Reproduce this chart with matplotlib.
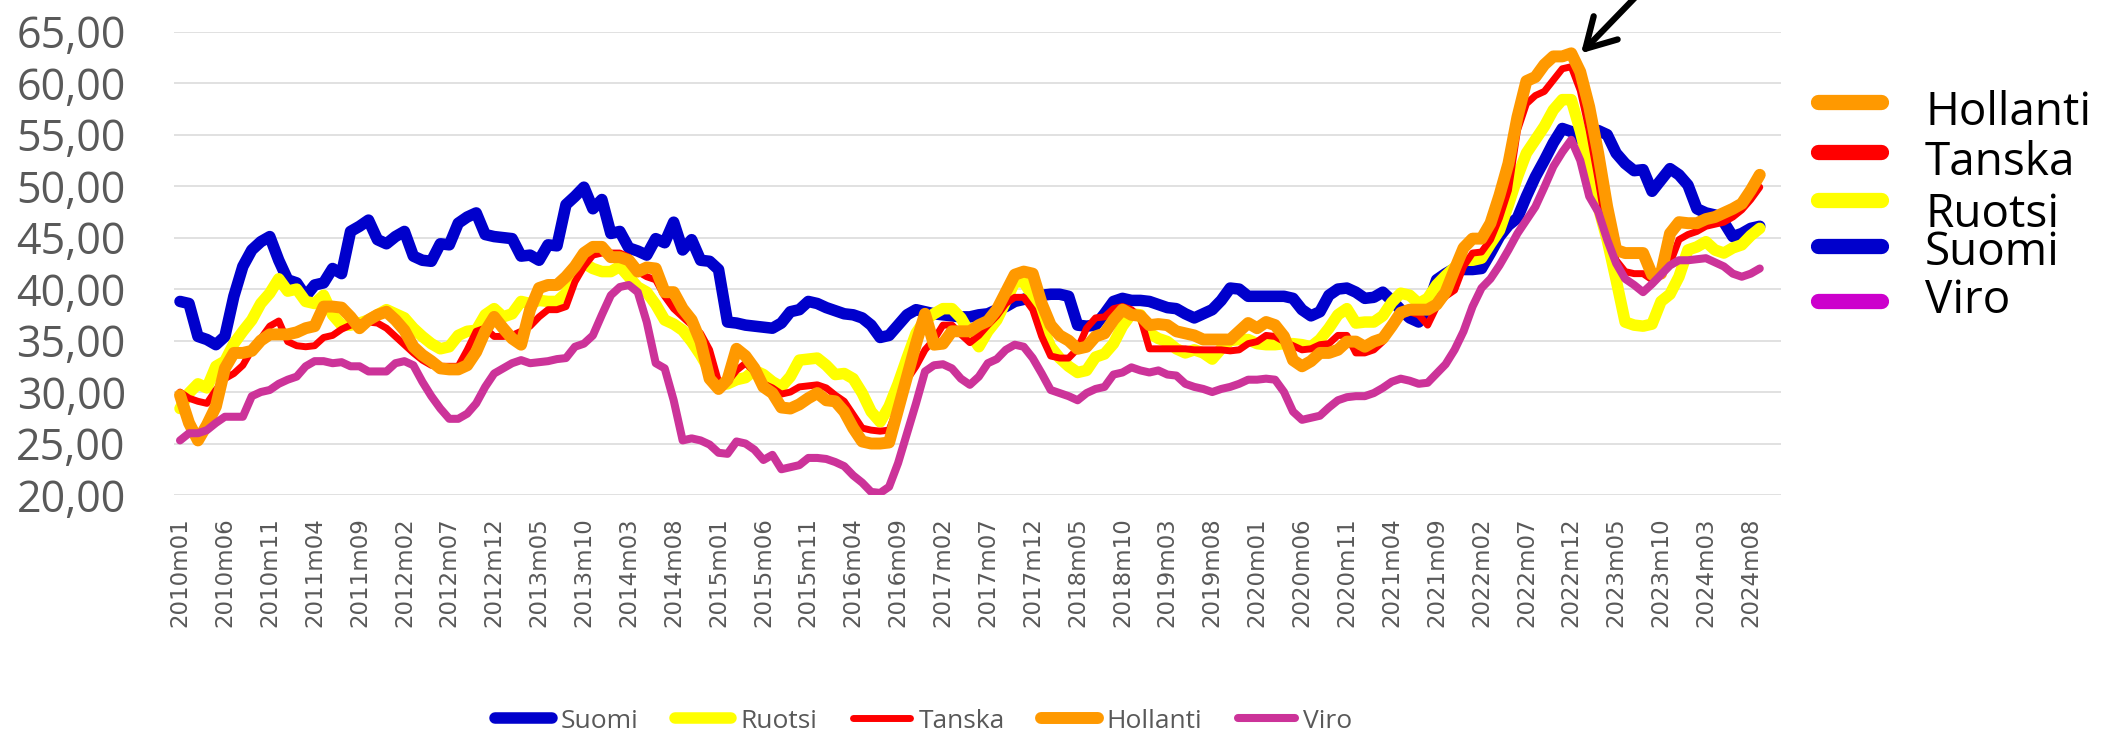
import numpy as np
import matplotlib
matplotlib.use("Agg")
import matplotlib.pyplot as plt
from matplotlib.lines import Line2D
from matplotlib.transforms import offset_copy

# ---------------- data ----------------
years = list(range(2010, 2025))
months = [f"{y}m{m:02d}" for y in years for m in range(1, 13)][:177]

suomi = [
    38.8, 38.6, 35.4, 35.1, 34.6, 35.4, 39.3, 42.2, 43.8, 44.6, 45.1, 42.8,
    40.9, 40.6, 39.3, 40.4, 40.6, 42.0, 41.5, 45.6, 46.1, 46.7, 44.8, 44.4,
    45.1, 45.6, 43.2, 42.8, 42.7, 44.4, 44.3, 46.4, 47.0, 47.4, 45.3, 45.1,
    45.0, 44.9, 43.2, 43.3, 42.8, 44.3, 44.2, 48.2, 49.0, 49.9, 47.8, 48.7,
    45.4, 45.6, 44.0, 43.7, 43.3, 44.9, 44.5, 46.5, 43.8, 44.8, 42.8, 42.7,
    41.9, 36.8, 36.7, 36.5, 36.4, 36.3, 36.2, 36.7, 37.8, 38.0, 38.8, 38.6,
    38.2, 37.9, 37.6, 37.5, 37.2, 36.5, 35.3, 35.5, 36.5, 37.5, 38.0, 37.8,
    37.6, 37.5, 37.4, 37.3, 37.3, 37.5, 37.6, 38.0, 38.3, 38.8, 39.0, 39.3,
    39.4, 39.5, 39.5, 39.3, 36.5, 36.4, 36.5, 37.6, 38.8, 39.1, 38.9, 38.9,
    38.8, 38.5, 38.2, 38.1, 37.6, 37.2, 37.6, 38.0, 38.9, 40.1, 40.0, 39.3,
    39.3, 39.3, 39.3, 39.3, 39.1, 38.0, 37.4, 37.8, 39.4, 40.0, 40.1, 39.7,
    39.1, 39.2, 39.7, 38.9, 38.0, 37.2, 36.8, 38.3, 40.9, 41.5, 42.0, 41.9,
    41.9, 42.0, 43.5, 45.1, 46.2, 46.9, 49.0, 50.9, 52.5, 54.2, 55.6, 55.3,
    54.6, 55.0, 55.4, 55.0, 53.2, 52.2, 51.5, 51.6, 49.5, 50.6, 51.7, 51.1,
    50.1, 47.8, 47.4, 47.2, 46.5, 45.1, 45.4, 45.9, 46.1,
]

ruotsi = [
    28.4, 29.9, 30.8, 30.4, 32.5, 33.0, 34.7, 35.9, 37.0, 38.6, 39.6, 41.0,
    39.8, 40.0, 38.8, 38.6, 39.4, 37.5, 36.5, 36.5, 36.7, 37.0, 37.5, 38.0,
    37.6, 37.2, 36.2, 35.4, 34.7, 34.2, 34.4, 35.5, 35.9, 36.0, 37.5, 38.1,
    37.3, 37.6, 38.8, 38.6, 38.9, 38.8, 38.8, 39.6, 41.4, 42.5, 42.0, 41.7,
    41.7, 42.2, 41.2, 40.2, 39.7, 38.5, 37.0, 36.6, 36.0, 34.9, 33.6, 32.1,
    30.7, 30.8, 31.2, 31.4, 32.1, 31.7, 31.0, 30.5, 31.5, 33.1, 33.2, 33.3,
    32.6, 31.7, 31.8, 31.3, 29.9, 28.1, 27.1, 28.6, 30.8, 33.3, 35.7, 37.0,
    37.6, 38.1, 38.1, 37.2, 35.7, 34.4, 35.9, 37.0, 38.8, 40.7, 40.7, 39.3,
    36.4, 34.4, 33.3, 32.5, 31.9, 32.1, 33.4, 33.7, 34.7, 36.4, 37.6, 37.5,
    35.7, 35.2, 34.9, 34.2, 33.8, 34.1, 33.8, 33.2, 34.2, 35.0, 35.1, 35.1,
    34.7, 34.6, 34.6, 34.7, 34.7, 34.6, 34.4, 35.1, 36.2, 37.5, 38.1, 36.7,
    36.8, 36.8, 37.4, 38.7, 39.6, 39.4, 38.6, 39.1, 40.4, 41.3, 42.1, 42.8,
    42.8, 43.0, 44.4, 45.7, 48.2, 50.9, 53.2, 54.5, 55.8, 57.4, 58.4, 58.4,
    55.4, 51.9, 48.0, 44.8, 40.9, 36.8, 36.5, 36.4, 36.6, 38.8, 39.5, 41.2,
    43.8, 44.1, 44.6, 43.8, 43.5, 44.0, 44.3, 45.2, 45.9,
]

tanska = [
    30.0, 29.4, 29.1, 28.9, 30.2, 31.3, 31.8, 32.6, 34.1, 35.2, 36.4, 36.9,
    34.9, 34.5, 34.4, 34.5, 35.3, 35.5, 36.1, 36.5, 36.7, 36.8, 36.7, 36.2,
    35.4, 34.6, 33.8, 33.1, 32.6, 32.5, 32.5, 32.5, 34.1, 35.9, 36.2, 35.4,
    35.4, 35.5, 35.9, 36.4, 37.3, 38.0, 38.0, 38.3, 40.7, 42.2, 43.3, 43.5,
    43.5, 43.5, 43.1, 41.7, 41.2, 40.9, 39.3, 38.1, 37.3, 36.5, 35.7, 34.1,
    31.0, 31.0, 32.1, 32.8, 32.0, 30.8, 30.4, 29.8, 30.0, 30.5, 30.6, 30.7,
    30.4, 29.7, 29.1, 27.8, 26.5, 26.3, 26.2, 26.3, 28.6, 31.2, 32.5, 34.1,
    35.1, 36.5, 36.5, 35.6, 34.8, 35.5, 36.5, 37.4, 38.6, 39.2, 39.2, 38.0,
    35.4, 33.5, 33.3, 33.3, 34.2, 36.2, 37.2, 37.3, 38.1, 38.3, 38.0, 37.2,
    34.2, 34.2, 34.2, 34.2, 34.2, 34.1, 34.1, 34.1, 34.1, 34.0, 34.1, 34.7,
    34.9, 35.5, 35.4, 34.9, 34.5, 34.1, 34.2, 34.6, 34.7, 35.5, 35.5, 33.8,
    33.8, 34.1, 34.9, 36.4, 37.4, 37.8, 37.5, 36.5, 38.3, 39.3, 39.9, 42.2,
    43.5, 43.6, 44.8, 46.9, 49.6, 55.4, 58.0, 58.8, 59.2, 60.3, 61.4, 61.6,
    59.3, 55.4, 50.6, 45.4, 42.8, 41.7, 41.5, 41.5, 40.9, 41.4, 42.5, 44.8,
    45.3, 45.6, 46.1, 46.3, 46.5, 47.0, 47.7, 48.7, 49.9,
]

hollanti = [
    29.7, 27.0, 25.3, 26.8, 28.6, 32.3, 33.8, 33.8, 34.0, 35.0, 35.6, 35.6,
    35.6, 35.8, 36.2, 36.4, 38.3, 38.3, 38.2, 37.3, 36.2, 37.0, 37.5, 37.8,
    37.0, 36.0, 34.4, 33.6, 33.0, 32.3, 32.2, 32.2, 32.6, 33.9, 35.9, 37.3,
    36.2, 35.2, 34.6, 38.0, 40.1, 40.4, 40.4, 41.2, 42.2, 43.5, 44.1, 44.1,
    43.1, 43.1, 42.8, 41.7, 42.1, 42.0, 39.7, 39.7, 38.1, 37.0, 34.9, 31.3,
    30.3, 31.2, 34.2, 33.5, 32.3, 30.5, 29.9, 28.5, 28.4, 28.8, 29.4, 29.9,
    29.2, 29.1, 28.1, 26.5, 25.2, 25.0, 25.0, 25.1, 28.3, 31.5, 34.7, 37.6,
    34.6, 34.7, 35.9, 35.9, 35.9, 36.5, 36.9, 38.0, 39.7, 41.4, 41.7, 41.5,
    38.6, 36.5, 35.5, 35.0, 34.2, 34.4, 35.4, 35.7, 37.0, 38.0, 37.5, 37.4,
    36.5, 36.6, 36.5, 35.9, 35.7, 35.5, 35.1, 35.1, 35.1, 35.1, 35.9, 36.7,
    36.2, 36.8, 36.5, 35.4, 33.1, 32.5, 33.0, 33.8, 33.8, 34.1, 34.9, 34.9,
    34.4, 34.9, 35.2, 36.4, 37.7, 38.0, 38.0, 38.0, 38.5, 39.7, 41.9, 44.0,
    44.9, 44.9, 46.4, 49.1, 52.2, 56.7, 60.2, 60.6, 61.8, 62.6, 62.6, 62.9,
    61.1, 57.7, 53.2, 48.0, 43.8, 43.5, 43.5, 43.5, 41.4, 41.5, 45.4, 46.5,
    46.4, 46.4, 46.8, 47.0, 47.4, 47.8, 48.3, 49.6, 51.1,
]

viro = [
    25.3, 26.0, 26.0, 26.3, 27.0, 27.6, 27.6, 27.6, 29.6, 30.0, 30.2, 30.8,
    31.2, 31.5, 32.5, 33.0, 33.0, 32.8, 32.9, 32.5, 32.5, 32.0, 32.0, 32.0,
    32.8, 33.0, 32.6, 31.0, 29.6, 28.4, 27.4, 27.4, 27.9, 28.9, 30.5, 31.8,
    32.3, 32.8, 33.1, 32.8, 32.9, 33.0, 33.2, 33.3, 34.4, 34.7, 35.5, 37.5,
    39.4, 40.2, 40.4, 39.7, 36.8, 32.8, 32.3, 29.2, 25.3, 25.5, 25.3, 24.9,
    24.1, 24.0, 25.2, 25.0, 24.4, 23.4, 23.9, 22.5, 22.7, 22.9, 23.6, 23.6,
    23.5, 23.2, 22.8, 21.9, 21.2, 20.3, 20.2, 20.8, 23.1, 26.0, 28.9, 32.0,
    32.6, 32.7, 32.3, 31.3, 30.7, 31.5, 32.8, 33.2, 34.1, 34.6, 34.4, 33.3,
    31.8, 30.2, 29.9, 29.6, 29.2, 29.9, 30.3, 30.5, 31.7, 31.9, 32.4, 32.1,
    31.9, 32.1, 31.7, 31.6, 30.8, 30.5, 30.3, 30.0, 30.3, 30.5, 30.8, 31.2,
    31.2, 31.3, 31.2, 30.0, 28.1, 27.3, 27.5, 27.7, 28.5, 29.2, 29.5, 29.6,
    29.6, 29.9, 30.4, 31.0, 31.3, 31.1, 30.8, 30.9, 31.8, 32.7, 34.1, 35.9,
    38.3, 40.1, 41.0, 42.3, 43.8, 45.4, 46.7, 48.0, 49.9, 51.9, 53.3, 54.5,
    52.5, 49.0, 47.5, 44.8, 42.5, 41.0, 40.4, 39.7, 40.5, 41.4, 42.3, 42.8,
    42.8, 42.9, 43.0, 42.6, 42.2, 41.5, 41.2, 41.5, 42.0,
]

series_names = ["Suomi", "Ruotsi", "Tanska", "Hollanti", "Viro"]
series_values = [suomi, ruotsi, tanska, hollanti, viro]
series_colors = ["#0000CC", "#FFFF00", "#FF0000", "#FF9900", "#CC3399"]
series_widths = [8.3, 8.3, 5.0, 8.6, 5.8]

y_ticks = [20, 25, 30, 35, 40, 45, 50, 55, 60, 65]

# ---------------- figure ----------------
W, H = 2105, 734
fig = plt.figure(figsize=(W / 100, H / 100), dpi=100)
fig.patch.set_facecolor("white")
ax = fig.add_axes([174.3 / W, 1 - 495 / H, 1607 / W, 463.3 / H])

x = np.arange(len(months))
handles = []
for name, vals, col, lw in zip(series_names, series_values, series_colors, series_widths):
    ln, = ax.plot(x, vals, color=col, lw=lw, solid_joinstyle="round",
                  solid_capstyle="round", label=name)
    handles.append(ln)

ax.set_xlim(-0.635, 178.4)
ax.set_ylim(20, 65)
ax.set_yticks(y_ticks)
ax.set_yticklabels([f"{v:.2f}".replace(".", ",") for v in y_ticks],
                   fontsize=31, color="#595959", family="Open Sans")
ax.set_xticks(x[::5])
ax.set_xticklabels([months[i] for i in x[::5]], rotation=90, fontsize=16.5,
                   color="#595959", family="DejaVu Sans")
ax.tick_params(axis="y", length=0, pad=35)
ax.tick_params(axis="x", length=0, pad=16)
for s in ax.spines.values():
    s.set_visible(False)
ax.yaxis.grid(True, color="#D9D9D9", lw=1.1)
ax.set_axisbelow(True)

# bottom legend
leg = fig.legend(handles=handles, loc="center", bbox_to_anchor=(924 / W, 1 - 721 / H),
                 ncol=5, frameon=False, prop={"family": "Open Sans", "size": 19},
                 handlelength=2.15, handletextpad=0.32, columnspacing=1.38,
                 borderpad=0)
for t in leg.get_texts():
    t.set_color("#595959")

# right-side legend overlay
right_names = ["Hollanti", "Tanska", "Ruotsi", "Suomi", "Viro"]
right_colors = ["#FF9900", "#FF0000", "#FFFF00", "#0000CC", "#CC00CC"]
right_line_y = [102, 152, 200, 246, 301]
right_text_y = [125, 175, 227, 265, 313]
for name, col, ly, ty in zip(right_names, right_colors, right_line_y, right_text_y):
    fig.add_artist(Line2D([1817.5 / W, 1880.5 / W], [1 - ly / H, 1 - ly / H],
                          transform=fig.transFigure, color=col, lw=11,
                          solid_capstyle="round"))
    fig.text(1925 / W, 1 - ty / H, name, fontsize=33, family="Open Sans",
             color="black", va="baseline", ha="left")

# arrow pointing at the Hollanti peak
pk = int(np.argmax(hollanti))
ax.annotate("", xy=(x[pk], hollanti[pk]),
            xycoords=offset_copy(ax.transData, fig=fig, x=7, y=0, units="points"),
            xytext=(62, 64), textcoords="offset points",
            arrowprops=dict(arrowstyle="->,head_length=0.7,head_width=0.4",
                            lw=4.5, color="black", shrinkA=0, shrinkB=0,
                            mutation_scale=30),
            annotation_clip=False)

fig.savefig("out.png", dpi=100)
